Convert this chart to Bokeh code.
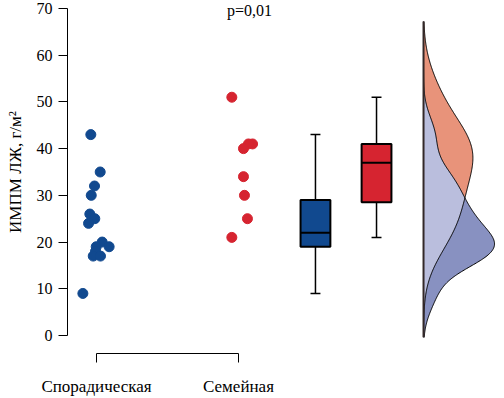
import numpy as np
from bokeh.plotting import figure
from bokeh.models import Range1d, FixedTicker, LinearAxis
from bokeh.embed import file_html
from bokeh.resources import INLINE
from bokeh.core.properties import value

# ---------------- data ----------------
categories = ["Спорадическая", "Семейная"]
category_pos = [1, 2]
spor_values = [43, 35, 32, 30, 26, 25, 24, 20, 19, 19, 18, 17, 17, 9]
fam_values = [51, 41, 41, 40, 34, 30, 25, 21]
y_label = "ИМПМ ЛЖ, г/м²"
p_text = "p=0,01"
y_ticks = [0, 10, 20, 30, 40, 50, 60, 70]

# box statistics (Q1, median, Q3, whisker low/high)
box_q1 = [19, 28.5]
box_med = [22, 37]
box_q3 = [29, 41]
box_lo = [9, 21]
box_hi = [43, 51]

# ---------------- positions / styles ----------------
W, H = 504, 398
PX_PER_X = 142.0      # pixels per x unit
X_ORIGIN_PX = 96.0    # pixel of x = 1
PX_PER_Y = 4.672      # pixels per y unit
Y_ZERO_PX = 335.0     # pixel of y = 0

def px2x(px):
    return 1 + (px - X_ORIGIN_PX) / PX_PER_X

def py2y(py):
    return (Y_ZERO_PX - py) / PX_PER_Y

spor_x = [0.960, 1.026, 0.986, 0.963, 0.953, 0.988, 0.944, 1.040, 1.089, 0.998, 0.993, 0.977, 1.028, 0.904]
fam_x = [1.953, 2.099, 2.070, 2.035, 2.035, 2.042, 2.063, 1.953]
box_x = [2.542, 2.972]
box_w = 0.21
cap_w = 0.07
dens_base = 3.303
dens_peak = 0.50
bw_spor, bw_fam = 4.0, 6.3

BLUE = "#11498F"
RED = "#D62430"
SALMON = "#E8937A"
DARKLAV = "#8891C1"
LIGHTLAV = "#BABEDD"
FONT = "Liberation Serif"

YAXIS_X = px2x(67)
XAXIS_Y = py2y(353)

p = figure(width=W, height=H, output_backend="svg", toolbar_location=None,
           x_range=Range1d(px2x(0), px2x(W)), y_range=Range1d(py2y(H), py2y(0)),
           x_axis_location=None, y_axis_location=None, min_border=0)
p.styles = {"position": "absolute", "left": "0px", "top": "0px"}
p.grid.visible = False
p.outline_line_color = None
p.background_fill_color = "white"
p.border_fill_color = "white"

# axes: lines and ticks from Bokeh axes, labels as serif text glyphs
yax = LinearAxis(fixed_location=YAXIS_X, ticker=FixedTicker(ticks=y_ticks), bounds=(0, 70),
                 major_tick_in=9, major_tick_out=0, minor_tick_line_color=None,
                 major_label_text_font_size="0px", major_label_text_color=None,
                 major_label_standoff=0,
                 axis_line_color="black", major_tick_line_color="black")
p.add_layout(yax, "right")
xax = LinearAxis(fixed_location=XAXIS_Y, ticker=FixedTicker(ticks=category_pos),
                 bounds=(category_pos[0], category_pos[-1]),
                 major_tick_in=9, major_tick_out=0, minor_tick_line_color=None,
                 major_label_text_font_size="0px", major_label_text_color=None,
                 major_label_standoff=0,
                 axis_line_color="black", major_tick_line_color="black")
p.add_layout(xax, "above")

# points
p.scatter(spor_x, spor_values, size=10, color=BLUE, line_color=BLUE)
p.scatter(fam_x, fam_values, size=10, color=RED, line_color=RED)

# boxes
for i, col in enumerate([BLUE, RED]):
    x = box_x[i]
    p.segment(x0=[x, x], y0=[box_lo[i], box_q3[i]], x1=[x, x], y1=[box_q1[i], box_hi[i]],
              line_color="black", line_width=1.5)
    p.segment(x0=[x - cap_w / 2] * 2, x1=[x + cap_w / 2] * 2, y0=[box_lo[i], box_hi[i]],
              y1=[box_lo[i], box_hi[i]], line_color="black", line_width=1.5)
    p.quad(left=[x - box_w / 2], right=[x + box_w / 2], bottom=[box_q1[i]], top=[box_q3[i]],
           fill_color=col, line_color="black", line_width=2)
    p.segment(x0=[x - box_w / 2], x1=[x + box_w / 2], y0=[box_med[i]], y1=[box_med[i]],
              line_color="black", line_width=2)

# densities (gaussian KDE of the two groups)
def kde(vals, grid, bw):
    vals = np.asarray(vals, float)
    z = (grid[:, None] - vals[None, :]) / bw
    return np.exp(-0.5 * z ** 2).sum(axis=1) / (len(vals) * bw * np.sqrt(2 * np.pi))

grid = np.linspace(-0.4, 67.2, 400)
d_s = kde(spor_values, grid, bw_spor)
d_f = kde(fam_values, grid, bw_fam)
scale = dens_peak / d_s.max()
xs_s = dens_base + d_s * scale
xs_f = dens_base + d_f * scale
xs_min = dens_base + np.minimum(d_s, d_f) * scale

p.harea(y=grid, x1=dens_base, x2=xs_f, fill_color=SALMON)
p.harea(y=grid, x1=dens_base, x2=xs_s, fill_color=DARKLAV)
p.harea(y=grid, x1=dens_base, x2=xs_min, fill_color=LIGHTLAV)
p.line(xs_f, grid, line_color="black", line_width=1)
p.line(xs_s, grid, line_color="black", line_width=1)
p.segment(x0=[dens_base], x1=[dens_base], y0=[grid[0]], y1=[grid[-1]], line_color="#332828", line_width=2)

# texts (drawn last)
p.text(x=[px2x(249)], y=[py2y(10)], text=[p_text], text_font=value(FONT), text_font_size="16px",
       text_align="center", text_baseline="middle", text_color="black")
p.text(x=[px2x(52)] * len(y_ticks), y=y_ticks, text=[str(t) for t in y_ticks],
       text_font=value(FONT), text_font_size="16px", text_align="right",
       text_baseline="middle", text_color="black")
p.text(x=category_pos, y=[py2y(386)] * len(categories), text=categories,
       text_font=value(FONT), text_font_size="17px", text_align="center",
       text_baseline="middle", text_color="black")
p.text(x=[px2x(15)], y=[35], text=[y_label], angle=np.pi / 2,
       text_font=value(FONT), text_font_size="17px", text_align="center",
       text_baseline="middle", text_color="black")

open("out.html", "w").write(file_html(p, INLINE))
